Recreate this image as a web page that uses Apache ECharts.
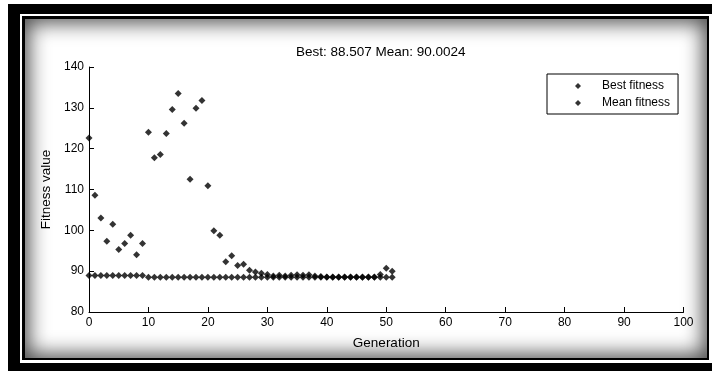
<!DOCTYPE html>
<html>
<head>
<meta charset="utf-8">
<script src="https://cdn.jsdelivr.net/npm/echarts@6/dist/echarts.min.js"></script>
<style>
  html, body { margin: 0; padding: 0; background: #fff; }
  .frame { position: absolute; }
  #chart { position: absolute; left: 0; top: 0; width: 712px; height: 371px; }
</style>
</head>
<body>
<div class="frame" style="left:8px;top:4px;width:704px;height:367px;background:#000"></div>
<div class="frame" style="left:20px;top:14px;width:692px;height:349px;background:#fff"></div>
<div class="frame" style="left:22px;top:16px;width:687px;height:344px;background:#000"></div>
<div class="frame" style="left:25px;top:19px;width:682px;height:339px;background:#fff;box-shadow:inset 0 0 20px 4px rgba(0,0,0,0.7)"></div>
<div id="chart"></div>
<script>
// generation index for every sample
const generations = [
  0, 1, 2, 3, 4, 5, 6, 7, 8, 9, 10, 11, 12, 13, 14, 15, 16, 17, 18, 19,
  20, 21, 22, 23, 24, 25, 26, 27, 28, 29, 30, 31, 32, 33, 34, 35, 36, 37, 38, 39,
  40, 41, 42, 43, 44, 45, 46, 47, 48, 49, 50, 51
]
const bestFitness = [
  88.95, 88.94, 88.93, 88.93, 88.93, 88.93, 88.93, 88.93, 88.93, 88.92,
  88.53, 88.53, 88.53, 88.53, 88.53, 88.52, 88.52, 88.52, 88.52, 88.52,
  88.52, 88.52, 88.52, 88.52, 88.52, 88.52, 88.52, 88.52, 88.52, 88.52,
  88.51, 88.51, 88.51, 88.51, 88.51, 88.51, 88.51, 88.51, 88.51, 88.51,
  88.51, 88.51, 88.51, 88.51, 88.51, 88.51, 88.51, 88.51, 88.51, 88.51,
  88.507, 88.507
]
const meanFitness = [
  122.6, 108.6, 103.0, 97.3, 101.5, 95.3, 96.8, 98.8, 94.0, 96.8,
  124.0, 117.8, 118.6, 123.7, 129.6, 133.5, 126.2, 112.5, 129.9, 131.8,
  110.9, 99.9, 98.8, 92.3, 93.8, 91.4, 91.7, 90.2, 89.8, 89.5,
  89.2, 88.8, 89.0, 88.8, 89.0, 89.1, 89.0, 89.1, 88.8, 88.7,
  88.6, 88.55, 88.55, 88.55, 88.55, 88.55, 88.55, 88.55, 88.6, 89.2,
  90.7, 90.0024
]
const xTicks = { min: 0, max: 100, interval: 10 }
const yTicks = { min: 80, max: 140, interval: 10 }

const font = '"Liberation Sans", Arial, sans-serif'
const pairs = (ys) => generations.map((g, i) => [g, ys[i]])

const myChart = echarts.init(document.getElementById('chart'), null, { renderer: 'canvas' })
myChart.setOption({
  backgroundColor: 'transparent',
  animation: false,
  textStyle: { fontFamily: font, color: '#000' },
  title: {
    text: 'Best: 88.507 Mean: 90.0024',
    left: 296,
    top: 45,
    padding: 0,
    textStyle: { fontFamily: font, fontSize: 13.5, fontWeight: 'normal', color: '#000' },
  },
  legend: {
    orient: 'vertical',
    left: 547,
    top: 74,
    padding: [6, 8, 5, 28],
    itemGap: 5,
    itemWidth: 6,
    itemHeight: 6,
    borderColor: '#000',
    borderWidth: 1,
    borderRadius: 0,
    backgroundColor: '#fff',
    textStyle: { fontFamily: font, fontSize: 12, color: '#000', padding: [0, 0, 0, 16] },
    data: [
      { name: 'Best fitness', icon: 'diamond' },
      { name: 'Mean fitness', icon: 'diamond' },
    ],
  },
  grid: { left: 89, top: 67, width: 594.5, height: 245, containLabel: false },
  xAxis: {
    type: 'value',
    min: xTicks.min,
    max: xTicks.max,
    interval: xTicks.interval,
    name: 'Generation',
    nameLocation: 'middle',
    nameGap: 24,
    nameTextStyle: { fontFamily: font, fontSize: 13.5, color: '#000' },
    splitLine: { show: false },
    axisLine: { lineStyle: { color: '#000', width: 1 } },
    axisTick: { inside: true, length: 5, lineStyle: { color: '#000' } },
    axisLabel: { margin: 5, fontFamily: font, fontSize: 12, color: '#000' },
  },
  yAxis: {
    type: 'value',
    min: yTicks.min,
    max: yTicks.max,
    interval: yTicks.interval,
    name: 'Fitness value',
    nameLocation: 'middle',
    nameGap: 34,
    nameTextStyle: { fontFamily: font, fontSize: 13.5, color: '#000' },
    splitLine: { show: false },
    axisLine: { show: true, lineStyle: { color: '#000', width: 1 } },
    axisTick: { show: true, inside: true, length: 5, lineStyle: { color: '#000' } },
    axisLabel: { margin: 5, fontFamily: font, fontSize: 12, color: '#000' },
  },
  series: [
    {
      name: 'Best fitness',
      type: 'scatter',
      symbol: 'diamond',
      symbolSize: 7,
      itemStyle: { color: '#000' },
      data: pairs(bestFitness),
    },
    {
      name: 'Mean fitness',
      type: 'scatter',
      symbol: 'diamond',
      symbolSize: 7,
      itemStyle: { color: '#000' },
      data: pairs(meanFitness),
    },
  ],
})
</script>
</body>
</html>
